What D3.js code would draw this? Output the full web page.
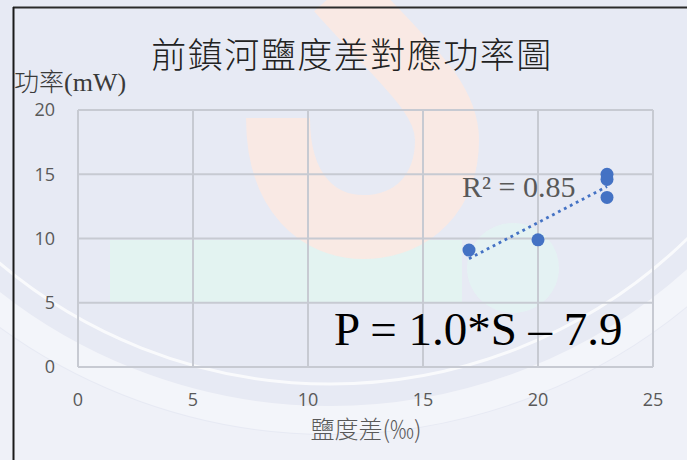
<!DOCTYPE html>
<html><head><meta charset="utf-8">
<script src="https://cdn.jsdelivr.net/npm/d3@7"></script>
<style>html,body{margin:0;padding:0;background:#e7eaf4;}svg{display:block;}</style>
</head><body>
<svg id="c" width="687" height="460"></svg>
<script>
// ---- data ----
const salinity = [17, 20, 23, 23, 23];          // 鹽度差 (‰)
const power    = [9.1, 9.9, 15.0, 14.6, 13.2];  // 功率 (mW)
const xTicks = [0, 5, 10, 15, 20, 25];
const yTicks = [0, 5, 10, 15, 20];
const titleText = "前鎮河鹽度差對應功率圖";
const yTitleCJK = "功率";
const yTitleUnit = "(mW)";
const xTitle = "鹽度差(‰)";
const r2Text = "R² = 0.85";
const eqText = "P = 1.0*S – 7.9";

const svg = d3.select("#c");
const W = 687, H = 460;
const x = d3.scaleLinear().domain([0, 25]).range([78, 653]);
const y = d3.scaleLinear().domain([0, 20]).range([367, 110]);

// ---- background & watermark ----
svg.append("rect").attr("width", W).attr("height", H).attr("fill", "#e7eaf4");
const wm = svg.append("g");
wm.append("circle").attr("cx", 330).attr("cy", -128).attr("r", 763)
  .attr("fill", "none").attr("stroke", "#ffffff").attr("stroke-width", 400).attr("opacity", 0.35);
wm.append("circle").attr("cx", 330).attr("cy", -128).attr("r", 548)
  .attr("fill", "none").attr("stroke", "#ffffff").attr("stroke-width", 28).attr("opacity", 0.5);
wm.append("circle").attr("cx", 330).attr("cy", -128).attr("r", 512)
  .attr("fill", "none").attr("stroke", "#ffffff").attr("stroke-width", 3).attr("opacity", 0.75);
wm.append("rect").attr("x", 110).attr("y", 240).attr("width", 352).attr("height", 62)
  .attr("fill", "#e2f4f1").attr("opacity", 0.9);
wm.append("ellipse").attr("cx", 513).attr("cy", 268).attr("rx", 46).attr("ry", 45)
  .attr("fill", "#e3f4f2").attr("opacity", 0.8);
wm.append("path")
  .attr("d", "M 278 118 C 278 195, 320 227, 363 227 C 415 227, 447 190, 447 140 C 447 95, 400 60, 338 -10")
  .attr("fill", "none").attr("stroke", "#fbe9e2").attr("stroke-width", 64).attr("opacity", 0.9);

// ---- frame ----
svg.append("line").attr("x1", 13).attr("x2", W).attr("y1", 7.5).attr("y2", 7.5)
  .attr("stroke", "#2a2a2a").attr("stroke-width", 2);
svg.append("line").attr("x1", 13.5).attr("x2", 13.5).attr("y1", 7).attr("y2", H)
  .attr("stroke", "#1a1a1a").attr("stroke-width", 2);

// ---- grid ----
const grid = svg.append("g").attr("stroke", "#c7cad2").attr("stroke-width", 2);
grid.selectAll(".vx").data(xTicks).join("line")
  .attr("x1", d => x(d)).attr("x2", d => x(d)).attr("y1", y(20)).attr("y2", y(0));
grid.selectAll(".hy").data(yTicks).join("line")
  .attr("x1", x(0)).attr("x2", x(25)).attr("y1", d => y(d)).attr("y2", d => y(d));

// ---- tick labels ----
const tickFont = "'Open Sans', 'Liberation Sans', sans-serif";
svg.append("g").selectAll("text").data(yTicks).join("text")
  .attr("x", 55).attr("y", d => y(d)).attr("dy", "0.35em").attr("text-anchor", "end")
  .attr("font-family", tickFont).attr("font-size", 18).attr("fill", "#595959").text(d => d);
svg.append("g").selectAll("text").data(xTicks).join("text")
  .attr("x", d => x(d)).attr("y", 400).attr("dy", "0.35em").attr("text-anchor", "middle")
  .attr("font-family", tickFont).attr("font-size", 18).attr("fill", "#595959").text(d => d);

// ---- titles ----
svg.append("text").attr("x", 352).attr("y", 52).attr("dominant-baseline", "central")
  .attr("text-anchor", "middle").attr("font-family", "'Noto Sans CJK TC', sans-serif")
  .attr("font-weight", 300).attr("font-size", 35).attr("letter-spacing", 1.5)
  .attr("fill", "#222").text(titleText);
const yt = svg.append("text").attr("x", 14).attr("y", 91)
  .attr("font-size", 25).attr("fill", "#3a3a3a");
yt.append("tspan").attr("font-family", "'Noto Sans CJK TC', sans-serif").attr("font-weight", 300).text(yTitleCJK);
yt.append("tspan").attr("font-family", "'Liberation Serif', serif").attr("font-size", 26).text(yTitleUnit);
svg.append("text").attr("x", 366).attr("y", 427).attr("dominant-baseline", "central")
  .attr("text-anchor", "middle").attr("font-family", "'Noto Sans CJK TC', sans-serif")
  .attr("font-weight", 300).attr("font-size", 24).attr("fill", "#595959").text(xTitle);

// ---- trendline (least squares from the data) ----
const n = salinity.length;
const mx = d3.mean(salinity), my = d3.mean(power);
let sxy = 0, sxx = 0;
for (let i = 0; i < n; i++) { sxy += (salinity[i]-mx)*(power[i]-my); sxx += (salinity[i]-mx)**2; }
const slope = sxy / sxx, icpt = my - slope * mx;
const [x0, x1] = d3.extent(salinity);
svg.append("line")
  .attr("x1", x(x0)).attr("y1", y(icpt + slope*x0))
  .attr("x2", x(x1)).attr("y2", y(icpt + slope*x1))
  .attr("stroke", "#4472c4").attr("stroke-width", 2.8).attr("stroke-dasharray", "2.8 3.9");

// ---- points ----
svg.append("g").selectAll("circle").data(salinity.map((s, i) => [s, power[i]])).join("circle")
  .attr("cx", d => x(d[0])).attr("cy", d => y(d[1])).attr("r", 6.5).attr("fill", "#4472c4");

// ---- annotations ----
svg.append("text").attr("x", 462).attr("y", 197)
  .attr("font-family", "'Liberation Serif', serif").attr("font-size", 30)
  .attr("fill", "#595959").text(r2Text);
svg.append("text").attr("x", 334).attr("y", 345)
  .attr("font-family", "'Liberation Serif', serif").attr("font-size", 47)
  .attr("fill", "#000").text(eqText);
</script>
</body></html>
